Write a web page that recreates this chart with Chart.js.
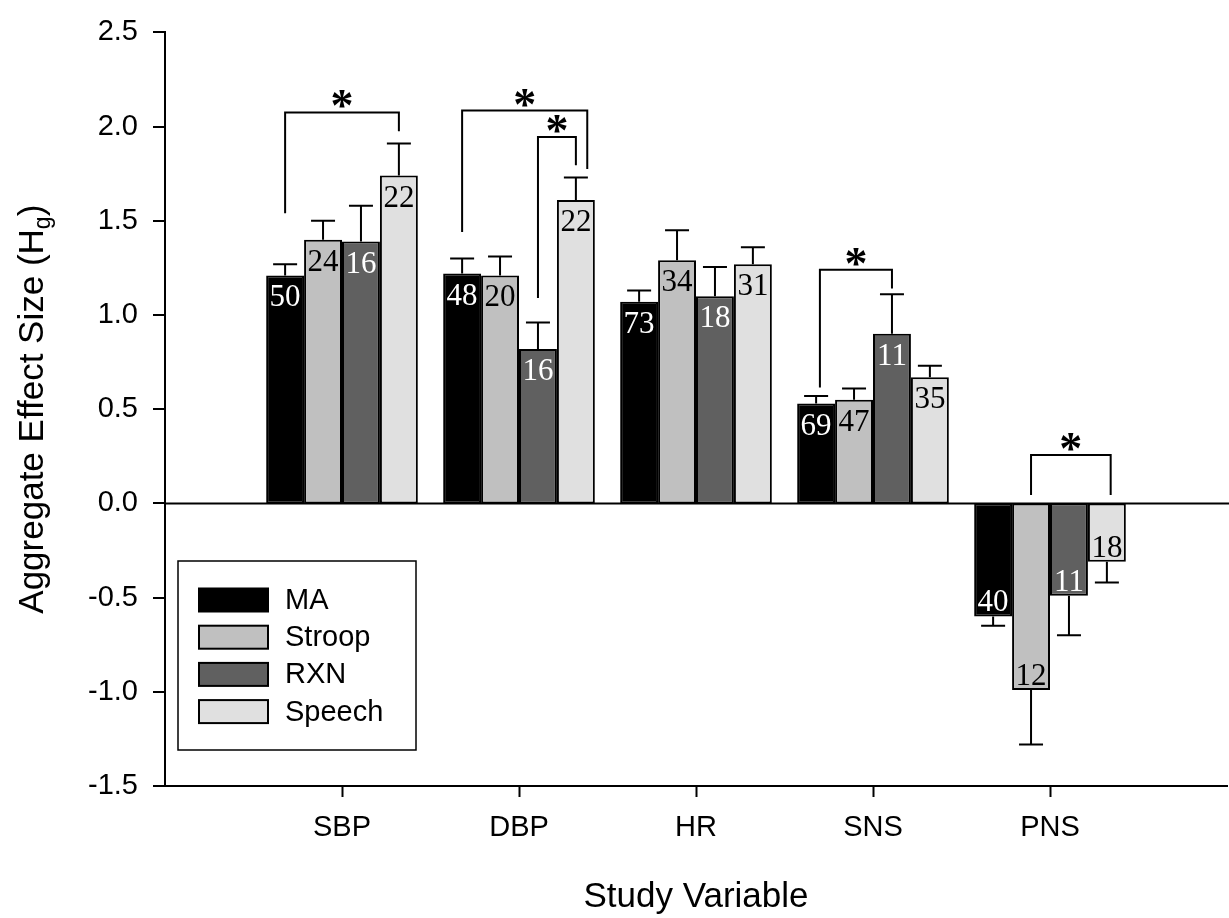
<!DOCTYPE html>
<html>
<head>
<meta charset="utf-8">
<script src="https://cdn.jsdelivr.net/npm/chart.js@4"></script>
<style>
html,body{margin:0;padding:0;background:#fff;}
</style>
</head>
<body>
<canvas id="chart" width="1229" height="918"></canvas>
<script>
// data
const categories = ['SBP', 'DBP', 'HR', 'SNS', 'PNS'];
const seriesNames = ['MA', 'Stroop', 'RXN', 'Speech'];
const seriesColors = ['#000000', '#c0c0c0', '#606060', '#e0e0e0'];
const labelColors = ['#ffffff', '#000000', '#ffffff', '#000000'];

const maValues     = [1.21, 1.22, 1.07, 0.53, -0.60];
const stroopValues = [1.40, 1.21, 1.29, 0.55, -0.99];
const rxnValues    = [1.39, 0.82, 1.10, 0.90, -0.49];
const speechValues = [1.74, 1.61, 1.27, 0.67, -0.31];

const maErr     = [0.06, 0.08, 0.06, 0.04, 0.05];
const stroopErr = [0.10, 0.10, 0.16, 0.06, 0.29];
const rxnErr    = [0.19, 0.14, 0.155, 0.21, 0.21];
const speechErr = [0.17, 0.12, 0.09, 0.06, 0.11];

const maN     = [50, 48, 73, 69, 40];
const stroopN = [24, 20, 34, 47, 12];
const rxnN    = [16, 16, 18, 11, 11];
const speechN = [22, 22, 31, 35, 18];

const yTicks = [-1.5, -1.0, -0.5, 0.0, 0.5, 1.0, 1.5, 2.0, 2.5];

// significance brackets: category, series index at each leg, y of the top and of each leg end
const brackets = [
  { cat: 0, from: 0,   to: 3,   top: 2.075, fromY: 1.54,  toY: 1.975 },
  { cat: 1, from: 0,   to: 3.3, top: 2.085, fromY: 1.44,  toY: 1.775 },
  { cat: 1, from: 2,   to: 3,   top: 1.945, fromY: 1.09,  toY: 1.795 },
  { cat: 3, from: 0.1, to: 2,   top: 1.24,  fromY: 0.615, toY: 1.14 },
  { cat: 4, from: 1,   to: 3.1, top: 0.257, fromY: 0.044, toY: 0.044 }
];

const values = [maValues, stroopValues, rxnValues, speechValues];
const errors = [maErr, stroopErr, rxnErr, speechErr];
const counts = [maN, stroopN, rxnN, speechN];

const sans = 'Liberation Sans, Arial, sans-serif';
const serif = 'Liberation Serif, Times New Roman, serif';

const extras = {
  id: 'extras',
  afterDatasetsDraw(chart) {
    const ctx = chart.ctx;
    const ca = chart.chartArea;
    const y = chart.scales.y;
    ctx.save();
    ctx.strokeStyle = '#000';
    ctx.lineWidth = 2;
    // zero line on top of the bars
    const y0 = y.getPixelForValue(0);
    ctx.beginPath();
    ctx.moveTo(ca.left, y0);
    ctx.lineTo(ca.right + 2, y0);
    ctx.stroke();
    // error bars, one side only
    values.forEach((vals, s) => {
      const meta = chart.getDatasetMeta(s);
      vals.forEach((v, i) => {
        const bar = meta.data[i];
        const end = y.getPixelForValue(v + Math.sign(v) * errors[s][i]);
        ctx.beginPath();
        ctx.moveTo(bar.x, bar.y);
        ctx.lineTo(bar.x, end);
        ctx.moveTo(bar.x - 12, end);
        ctx.lineTo(bar.x + 12, end);
        ctx.stroke();
      });
    });
    // n labels inside the bars
    ctx.font = '31px ' + serif;
    ctx.textAlign = 'center';
    ctx.textBaseline = 'alphabetic';
    values.forEach((vals, s) => {
      const meta = chart.getDatasetMeta(s);
      ctx.fillStyle = labelColors[s];
      vals.forEach((v, i) => {
        const bar = meta.data[i];
        const ty = v >= 0 ? bar.y + 31 : bar.y - 5;
        ctx.fillText(String(counts[s][i]), bar.x, ty);
      });
    });
    // brackets with asterisks
    ctx.fillStyle = '#000';
    ctx.font = 'bold 46px ' + serif;
    const m = ctx.measureText('*');
    const mid = (m.actualBoundingBoxAscent - m.actualBoundingBoxDescent) / 2;
    brackets.forEach(b => {
      const b0 = chart.getDatasetMeta(0).data[b.cat];
      const b1 = chart.getDatasetMeta(1).data[b.cat];
      const step = b1.x - b0.x;
      const xl = b0.x + b.from * step;
      const xr = b0.x + b.to * step;
      const yt = y.getPixelForValue(b.top);
      ctx.beginPath();
      ctx.moveTo(xl, y.getPixelForValue(b.fromY));
      ctx.lineTo(xl, yt);
      ctx.lineTo(xr, yt);
      ctx.lineTo(xr, y.getPixelForValue(b.toY));
      ctx.stroke();
      ctx.fillText('*', (xl + xr) / 2, yt - 13 + mid);
    });
    ctx.restore();
  },
  afterDraw(chart) {
    const ctx = chart.ctx;
    const ca = chart.chartArea;
    ctx.save();
    // legend box in the lower left of the plot
    const lx = ca.left + 13, ly = ca.bottom - 225;
    ctx.fillStyle = '#fff';
    ctx.fillRect(lx, ly, 238, 189);
    ctx.strokeStyle = '#000';
    ctx.lineWidth = 1.5;
    ctx.strokeRect(lx, ly, 238, 189);
    ctx.font = '29px ' + sans;
    ctx.textBaseline = 'middle';
    ctx.textAlign = 'left';
    seriesNames.forEach((name, s) => {
      const cy = ly + 39 + s * 37.2;
      ctx.fillStyle = seriesColors[s];
      ctx.fillRect(lx + 21, cy - 11.5, 69, 23);
      ctx.lineWidth = 2;
      ctx.strokeRect(lx + 21, cy - 11.5, 69, 23);
      ctx.fillStyle = '#000';
      ctx.fillText(name, lx + 107, cy + 1);
    });
    // axis titles
    ctx.textBaseline = 'alphabetic';
    ctx.textAlign = 'center';
    ctx.font = '35px ' + sans;
    ctx.fillText('Study Variable', (ca.left + ca.right) / 2, 907);

    ctx.translate(43, (ca.top + ca.bottom) / 2);
    ctx.rotate(-Math.PI / 2);
    ctx.textAlign = 'left';
    const main = 'Aggregate Effect Size (H';
    const w1 = ctx.measureText(main).width;
    const w3 = ctx.measureText(')').width;
    ctx.font = '23px ' + sans;
    const w2 = ctx.measureText('g').width;
    let x0 = -(w1 + w2 + w3) / 2;
    ctx.font = '35px ' + sans;
    ctx.fillText(main, x0, 0);
    ctx.font = '23px ' + sans;
    ctx.fillText('g', x0 + w1, 7);
    ctx.font = '35px ' + sans;
    ctx.fillText(')', x0 + w1 + w2, 0);
    ctx.restore();
  }
};

new Chart(document.getElementById('chart'), {
  type: 'bar',
  data: {
    datasets: seriesNames.map((name, s) => ({
      label: name,
      data: values[s].map((v, i) => ({ x: i + 1, y: v })),
      backgroundColor: seriesColors[s],
      borderColor: '#000',
      borderWidth: 2,
      borderSkipped: false,
      inflateAmount: 0,
      categoryPercentage: 0.857,
      barPercentage: 1
    }))
  },
  options: {
    responsive: false,
    animation: false,
    layout: { padding: { top: 23, right: 2, left: 0, bottom: 0 } },
    plugins: { legend: { display: false }, tooltip: { enabled: false } },
    scales: {
      x: {
        type: 'linear',
        min: 0,
        max: 6,
        offset: false,
        afterBuildTicks: sc => { sc.ticks = categories.map((_, i) => ({ value: i + 1 })); },
        afterFit: sc => { sc.height = 132; },
        ticks: {
          callback: v => categories[v - 1] || '',
          color: '#000',
          font: { family: sans, size: 29 },
          padding: 14,
          maxRotation: 0,
          autoSkip: false
        },
        grid: { drawOnChartArea: false, offset: false, tickLength: 11, tickColor: '#000', tickWidth: 2 },
        border: { color: '#000', width: 2 }
      },
      y: {
        min: -1.5,
        max: 2.5,
        afterBuildTicks: sc => { sc.ticks = yTicks.map(v => ({ value: v })); },
        afterFit: sc => { sc.width = 165; },
        ticks: {
          callback: v => v.toFixed(1),
          color: '#000',
          font: { family: sans, size: 29 },
          padding: 15
        },
        grid: {
          drawOnChartArea: false,
          lineWidth: 0,
          tickLength: 12,
          tickColor: '#000',
          tickWidth: 2
        },
        border: { color: '#000', width: 2 }
      }
    }
  },
  plugins: [extras]
});
</script>
</body>
</html>
